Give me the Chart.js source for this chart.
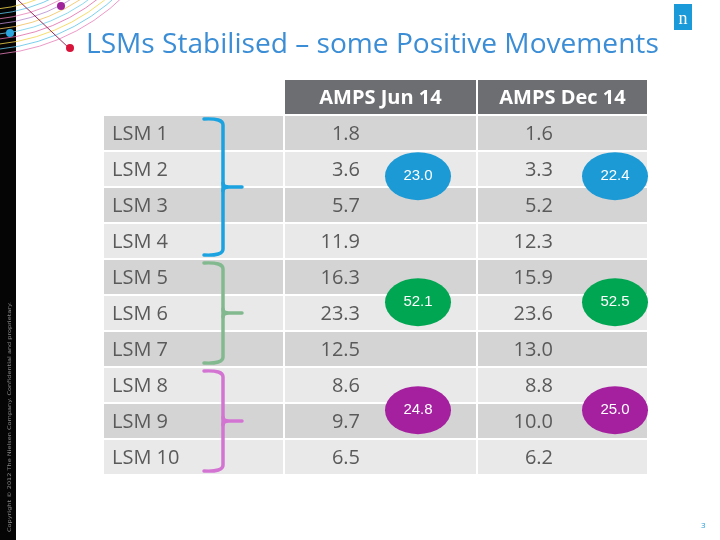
<!DOCTYPE html>
<html>
<head>
<meta charset="utf-8">
<script src="https://cdn.jsdelivr.net/npm/chart.js@4.4.1/dist/chart.umd.min.js"></script>
<style>
  html, body { margin: 0; padding: 0; background: #fff; }
  #wrap { width: 720px; height: 540px; }
</style>
</head>
<body>
<div id="wrap"><canvas id="lsmChart" width="720" height="540"></canvas></div>
<script>
// table data
const titleText = 'LSMs Stabilised \u2013 some Positive Movements';
const headerLabels = ['AMPS Jun 14', 'AMPS Dec 14'];
const lsmLabels = ['LSM 1', 'LSM 2', 'LSM 3', 'LSM 4', 'LSM 5', 'LSM 6', 'LSM 7', 'LSM 8', 'LSM 9', 'LSM 10'];
const ampsJun14 = [1.8, 3.6, 5.7, 11.9, 16.3, 23.3, 12.5, 8.6, 9.7, 6.5];
const ampsDec14 = [1.6, 3.3, 5.2, 12.3, 15.9, 23.6, 13.0, 8.8, 10.0, 6.2];
// groups of LSMs (first and last row) and their circled totals
const groupFirst = [0, 4, 7];
const groupLast = [3, 6, 9];
const junTotals = [23.0, 52.1, 24.8];
const decTotals = [22.4, 52.5, 25.0];

// layout / styles
const colLabel = [104, 283];
const colJun = [285, 476];
const colDec = [478, 647];
const groupColors = ['#1b9ad6', '#00a651', '#a5209f'];
const braceColors = ['#1aa3e0', '#82b98f', '#d374d3'];
const headerColor = '#6d6e71';
const rowDark = '#d4d4d4';
const rowLight = '#e9e9e9';
const textGray = '#5a5a5a';
const FONT = '"Open Sans", "DejaVu Sans", sans-serif';

// row 0 of the y axis is the header row
const rowNames = ['header'].concat(lsmLabels);
const rowColor = rowNames.map((r, i) => i === 0 ? headerColor : (i % 2 === 1 ? rowDark : rowLight));

const fmt = v => v.toFixed(1);

const slideBackground = {
    id: 'slideBackground',
    beforeDraw(chart) {
        const ctx = chart.ctx;
        ctx.save();
        ctx.fillStyle = '#fff';
        ctx.fillRect(0, 0, chart.width, chart.height);

        // black strip on the left
        ctx.fillStyle = '#050505';
        ctx.fillRect(0, 0, 16, chart.height);

        // swirl of thin arcs in the corner
        ctx.save();
        ctx.beginPath();
        ctx.rect(0, 0, 140, 62);
        ctx.clip();
        const arcCols = ['#f2d64b', '#5bc4e8', '#e77fb9', '#b58ad0', '#f0c05a', '#6fd0ea', '#e06aa8'];
        for (let k = 0; k < 10; k++) {
            ctx.beginPath();
            ctx.strokeStyle = arcCols[k % arcCols.length];
            ctx.globalAlpha = 0.8;
            ctx.lineWidth = 1;
            ctx.arc(-20, -150, 160 + k * 5, 0, Math.PI);
            ctx.stroke();
        }
        ctx.globalAlpha = 1;
        ctx.beginPath();
        ctx.strokeStyle = '#9c2a5a';
        ctx.lineWidth = 1;
        ctx.moveTo(18, 0);
        ctx.lineTo(70, 49);
        ctx.stroke();
        ctx.restore();

        const dot = (x, y, c) => {
            ctx.beginPath();
            ctx.fillStyle = c;
            ctx.arc(x, y, 4, 0, Math.PI * 2);
            ctx.fill();
        };
        dot(61, 6, '#a0239c');
        dot(10, 33, '#2aa7df');
        dot(70, 48, '#d9143a');

        // copyright line, rotated
        ctx.save();
        ctx.translate(10, 532);
        ctx.rotate(-Math.PI / 2);
        ctx.fillStyle = '#8a8a8a';
        ctx.font = '5px "DejaVu Sans", sans-serif';
        const cr = 'Copyright \u00a9 2012 The Nielsen Company. Confidential and proprietary.';
        const crw = ctx.measureText(cr).width;
        ctx.scale(230 / crw, 1);
        ctx.textBaseline = 'middle';
        ctx.fillText(cr, 0, 0);
        ctx.restore();

        // logo
        ctx.fillStyle = '#1a9ad8';
        ctx.fillRect(674, 4, 18, 26);
        ctx.fillStyle = '#fff';
        ctx.font = '18px "Liberation Serif", serif';
        ctx.textAlign = 'center';
        ctx.textBaseline = 'alphabetic';
        ctx.fillText('n', 683, 24);

        // title, fitted to the slide width
        ctx.textAlign = 'left';
        let size = 26;
        ctx.font = size + 'px ' + FONT;
        size = size * 572 / ctx.measureText(titleText).width;
        ctx.font = size.toFixed(1) + 'px ' + FONT;
        ctx.fillStyle = '#3b8ed6';
        ctx.fillText(titleText, 86, 53);

        // page number
        ctx.font = '8px ' + FONT;
        ctx.fillStyle = '#1a9ad8';
        ctx.fillText('3', 701, 528);
        ctx.restore();
    }
};

const tableText = {
    id: 'tableText',
    afterDatasetsDraw(chart) {
        const ctx = chart.ctx;
        const x = chart.scales.x;
        const y = chart.scales.y;
        const half = (y.getPixelForValue(1) - y.getPixelForValue(0)) / 2;
        ctx.save();

        // header
        ctx.font = 'bold 20px ' + FONT;
        ctx.fillStyle = '#fff';
        ctx.textAlign = 'center';
        ctx.textBaseline = 'alphabetic';
        const hy = y.getPixelForValue(0) + 7;
        ctx.fillText(headerLabels[0], x.getPixelForValue((colJun[0] + colJun[1]) / 2), hy);
        ctx.fillText(headerLabels[1], x.getPixelForValue((colDec[0] + colDec[1]) / 2), hy);

        // body rows
        ctx.font = '20px ' + FONT;
        ctx.fillStyle = textGray;
        lsmLabels.forEach((lab, i) => {
            const py = y.getPixelForValue(i + 1) + 7;
            ctx.textAlign = 'left';
            ctx.fillText(lab, x.getPixelForValue(colLabel[0] + 8), py);
            ctx.textAlign = 'right';
            ctx.fillText(fmt(ampsJun14[i]), x.getPixelForValue(360), py);
            ctx.fillText(fmt(ampsDec14[i]), x.getPixelForValue(553), py);
        });

        // braces and circled totals
        groupFirst.forEach((first, g) => {
            const last = groupLast[g];
            const top = y.getPixelForValue(first + 1) - half + 4;
            const bot = y.getPixelForValue(last + 1) + half - 4;
            const mid = y.getPixelForValue((first + last) / 2 + 1);
            const xl = x.getPixelForValue(204);
            const xv = x.getPixelForValue(223);
            const xt = x.getPixelForValue(242);
            ctx.strokeStyle = braceColors[g];
            ctx.lineWidth = 3.5;
            ctx.lineCap = 'round';
            ctx.lineJoin = 'round';
            ctx.beginPath();
            ctx.moveTo(xl, top);
            ctx.quadraticCurveTo(xv, top - 1, xv, top + 6);
            ctx.lineTo(xv, bot - 6);
            ctx.quadraticCurveTo(xv, bot + 1, xl, bot);
            ctx.stroke();
            ctx.beginPath();
            ctx.moveTo(xv, mid - 4);
            ctx.quadraticCurveTo(xv, mid, xv + 6, mid);
            ctx.lineTo(xt, mid);
            ctx.moveTo(xv, mid + 4);
            ctx.quadraticCurveTo(xv, mid, xv + 6, mid);
            ctx.stroke();

            const ey = y.getPixelForValue((first + last) / 2 + 1 - 0.3);
            [[418, junTotals[g]], [615, decTotals[g]]].forEach(([cx, val]) => {
                const ex = x.getPixelForValue(cx);
                ctx.beginPath();
                ctx.fillStyle = groupColors[g];
                ctx.ellipse(ex, ey, 33, 24, 0, 0, Math.PI * 2);
                ctx.fill();
                ctx.fillStyle = '#fff';
                ctx.font = '15px "Liberation Sans", Arial, sans-serif';
                ctx.textAlign = 'center';
                ctx.textBaseline = 'middle';
                ctx.fillText(fmt(val), ex, ey);
            });
            ctx.textBaseline = 'alphabetic';
            ctx.fillStyle = textGray;
        });
        ctx.restore();
    }
};

const cellBar = (edges, colors, skipHeader) => ({
    data: rowNames.map((r, i) => (skipHeader && i === 0) ? null : edges.slice()),
    backgroundColor: colors,
    borderWidth: 0,
    borderSkipped: false,
    grouped: false,
    barPercentage: 0.94,
    categoryPercentage: 1
});

new Chart(document.getElementById('lsmChart'), {
    type: 'bar',
    data: {
        labels: rowNames,
        datasets: [
            cellBar(colLabel, rowColor, true),
            cellBar(colJun, rowColor, false),
            cellBar(colDec, rowColor, false)
        ]
    },
    options: {
        indexAxis: 'y',
        responsive: false,
        animation: false,
        layout: { padding: { top: 79, bottom: 65, left: 0, right: 0 } },
        plugins: {
            legend: { display: false },
            tooltip: { enabled: false },
            title: { display: false }
        },
        scales: {
            x: { type: 'linear', min: 0, max: 720, display: false },
            y: { type: 'category', display: false, offset: true, grid: { display: false } }
        }
    },
    plugins: [slideBackground, tableText]
});
</script>
</body>
</html>
